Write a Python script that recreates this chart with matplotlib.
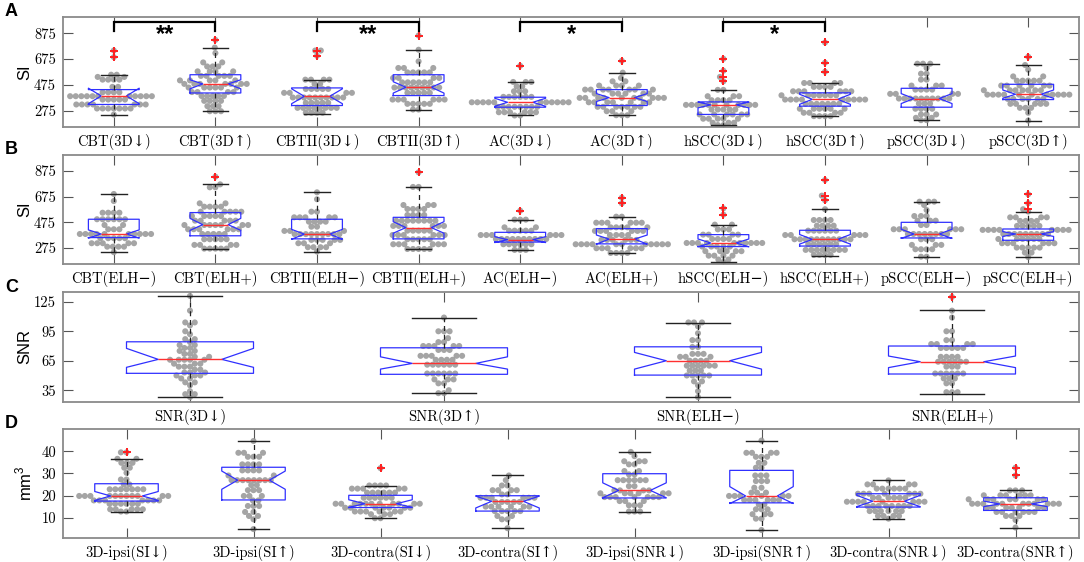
import numpy as np
import matplotlib

matplotlib.use("Agg")
import matplotlib.pyplot as plt  # noqa: E402

TICK_FONT = ["cmr10", "DejaVu Serif"]
plt.rcParams["axes.formatter.use_mathtext"] = True
plt.rcParams["mathtext.fontset"] = "custom"
plt.rcParams["mathtext.rm"] = "Liberation Sans"

# ---------------- panel A : SI, 3D grouping ----------------
a_labels = ["CBT(3D↓)", "CBT(3D↑)", "CBTII(3D↓)", "CBTII(3D↑)", "AC(3D↓)",
            "AC(3D↑)", "hSCC(3D↓)", "hSCC(3D↑)", "pSCC(3D↓)", "pSCC(3D↑)"]
a_med = [390, 483, 387, 457, 341, 377, 321, 364, 370, 403]
a_q1 = [324, 413, 316, 393, 303, 316, 247, 311, 303, 362]
a_q3 = [439, 554, 452, 554, 380, 439, 344, 414, 449, 480]
a_lo = [246, 272, 252, 285, 239, 241, 165, 234, 203, 200]
a_hi = [554, 764, 516, 747, 498, 570, 437, 490, 639, 629]
a_cilo = [330, 445, 330, 412, 310, 347, 298, 325, 331, 372]
a_cihi = [450, 515, 445, 500, 372, 408, 342, 403, 408, 436]
a_fliers = [[741, 690], [823], [741, 700], [857], [623], [662],
            [677, 585, 537, 503], [803, 647, 577], [], [693]]
# (value, number of dots) rows of the swarm
a_rows = [
    [(741, 1), (690, 1), (554, 2), (537, 2), (516, 4), (460, 2), (418, 4), (388, 11),
     (362, 5), (324, 7), (293, 7), (246, 1)],
    [(823, 1), (764, 1), (721, 1), (649, 2), (618, 3), (580, 4), (545, 5), (510, 5),
     (483, 7), (455, 6), (420, 4), (390, 5), (352, 4), (311, 3), (272, 3)],
    [(741, 2), (700, 1), (516, 4), (483, 2), (444, 5), (414, 4), (378, 10), (337, 5),
     (298, 8), (260, 4)],
    [(857, 1), (747, 1), (657, 1), (606, 3), (572, 5), (529, 4), (495, 6), (455, 9),
     (414, 5), (362, 6), (329, 5), (285, 2)],
    [(623, 1), (498, 3), (464, 2), (426, 3), (383, 6), (341, 11), (306, 8), (264, 6),
     (239, 2)],
    [(662, 1), (570, 1), (529, 1), (503, 2), (470, 4), (439, 7), (408, 6), (375, 10),
     (341, 7), (306, 7), (272, 3), (241, 3)],
    [(677, 1), (585, 1), (537, 1), (503, 1), (437, 2), (388, 3), (357, 4), (321, 11),
     (285, 5), (247, 6), (214, 5), (183, 3), (165, 2)],
    [(803, 1), (647, 1), (577, 1), (490, 4), (460, 4), (426, 6), (395, 7), (362, 9),
     (329, 7), (291, 6), (260, 4), (234, 4)],
    [(639, 3), (606, 1), (562, 2), (516, 2), (470, 3), (439, 4), (406, 4), (370, 10),
     (331, 3), (291, 4), (247, 3), (221, 2), (203, 2)],
    [(693, 1), (629, 1), (593, 1), (541, 2), (508, 5), (470, 6), (434, 7), (400, 11),
     (367, 6), (329, 5), (298, 3), (260, 1), (200, 1)],
]
a_pairs = [(1, 2, "**"), (3, 4, "**"), (5, 6, "*"), (7, 8, "*")]

# ---------------- panel B : SI, ELH grouping ----------------
b_labels = ["CBT(ELH−)", "CBT(ELH+)", "CBTII(ELH−)", "CBTII(ELH+)", "AC(ELH−)",
            "AC(ELH+)", "hSCC(ELH−)", "hSCC(ELH+)", "pSCC(ELH−)", "pSCC(ELH+)"]
b_med = [384, 457, 383, 434, 340, 344, 314, 342, 384, 384]
b_q1 = [356, 370, 346, 346, 321, 307, 286, 290, 353, 335]
b_q3 = [499, 551, 499, 514, 397, 426, 379, 413, 475, 423]
b_lo = [242, 267, 247, 267, 260, 236, 166, 215, 207, 204]
b_hi = [696, 771, 709, 751, 496, 519, 457, 577, 636, 559]
b_cilo = [352, 412, 343, 390, 317, 305, 284, 305, 350, 365]
b_cihi = [416, 506, 420, 480, 363, 376, 345, 380, 421, 402]
b_fliers = [[], [831], [], [865], [566], [667, 623], [584, 535],
            [805, 683, 647], [], [694, 624, 577]]
b_rows = [
    [(696, 1), (641, 1), (550, 4), (499, 6), (454, 2), (421, 3), (384, 10), (351, 5),
     (312, 5), (285, 4), (242, 1)],
    [(831, 1), (771, 1), (748, 2), (623, 2), (597, 4), (558, 5), (524, 5), (488, 5),
     (454, 7), (421, 6), (384, 5), (343, 5), (299, 4), (270, 5)],
    [(709, 1), (655, 1), (558, 2), (514, 5), (480, 4), (441, 2), (408, 3), (383, 9),
     (338, 5), (312, 3), (281, 4), (247, 1)],
    [(865, 1), (751, 2), (610, 3), (579, 4), (532, 4), (488, 8), (447, 6), (410, 5),
     (376, 6), (343, 5), (304, 6), (267, 5)],
    [(566, 1), (496, 3), (436, 2), (410, 5), (376, 6), (345, 10), (304, 6), (260, 3)],
    [(667, 1), (623, 1), (519, 2), (472, 6), (436, 5), (408, 6), (376, 4), (338, 6),
     (304, 11), (273, 6), (236, 4)],
    [(584, 1), (535, 1), (457, 2), (420, 3), (379, 4), (345, 4), (314, 10), (286, 5),
     (250, 5), (215, 4), (185, 2), (166, 1)],
    [(805, 1), (683, 1), (647, 1), (577, 1), (493, 4), (449, 4), (410, 6), (376, 5),
     (343, 11), (304, 6), (260, 8), (221, 4)],
    [(636, 3), (610, 1), (571, 1), (524, 3), (488, 3), (454, 2), (421, 6), (384, 8),
     (343, 3), (299, 3), (265, 4), (207, 2)],
    [(694, 1), (624, 1), (577, 1), (559, 1), (514, 4), (486, 4), (447, 5), (416, 8),
     (384, 9), (345, 6), (312, 6), (278, 5), (239, 2), (204, 1)],
]

# ---------------- panel C : SNR ----------------
c_labels = ["SNR(3D↓)", "SNR(3D↑)", "SNR(ELH−)", "SNR(ELH+)"]
c_med = [66.4, 62.3, 65.0, 64.0]
c_q1 = [52.2, 51.2, 50.4, 51.5]
c_q3 = [84.3, 78.2, 79.2, 80.0]
c_lo = [28.4, 32.1, 28.0, 31.5]
c_hi = [130.8, 108.7, 103.6, 116.2]
c_cilo = [58.3, 56.5, 56.5, 58.0]
c_cihi = [77.6, 69.0, 73.5, 69.8]
c_fliers = [[], [], [], [129.8]]
c_rows = [
    [(131, 1), (116, 1), (104, 2), (101, 1), (95, 1), (92, 1), (87, 2), (84, 1), (81, 2),
     (78, 2), (75, 2), (72, 2), (69, 2), (66, 5), (62, 3), (59, 3), (56, 2), (53, 3),
     (50, 3), (47, 2), (43, 2), (40, 1), (34, 1), (31, 2), (28, 1)],
    [(109, 1), (95, 3), (88, 1), (84, 2), (80, 5), (76, 3), (70, 5), (66, 4), (61, 6),
     (52, 6), (46, 3), (42, 2), (35, 1), (32, 2)],
    [(104, 3), (100, 1), (93, 1), (86, 2), (79, 2), (72, 3), (69, 3), (65, 4), (60, 6),
     (55, 3), (50, 5), (44, 2), (40, 1), (34, 1), (28, 1)],
    [(130, 1), (116, 1), (109, 1), (95, 2), (86, 2), (82, 4), (78, 5), (69, 4), (64, 6),
     (59, 3), (52, 6), (47, 3), (42, 2), (33, 3)],
]

# ---------------- panel D : volume ----------------
d_labels = ["3D-ipsi(SI↓)", "3D-ipsi(SI↑)", "3D-contra(SI↓)", "3D-contra(SI↑)",
            "3D-ipsi(SNR↓)", "3D-ipsi(SNR↑)", "3D-contra(SNR↓)", "3D-contra(SNR↑)"]
d_med = [19.9, 27.0, 16.4, 17.5, 22.4, 19.9, 17.5, 16.3]
d_q1 = [17.6, 18.1, 14.7, 13.1, 19.0, 16.8, 14.9, 13.4]
d_q3 = [25.4, 32.8, 20.2, 20.0, 29.9, 31.4, 20.9, 19.1]
d_lo = [12.9, 5.0, 9.9, 5.4, 12.9, 4.6, 9.7, 5.7]
d_hi = [36.6, 44.6, 24.6, 29.1, 39.7, 44.8, 26.9, 22.4]
d_cilo = [17.9, 22.9, 14.8, 14.5, 19.1, 16.5, 15.1, 15.1]
d_cihi = [21.9, 31.1, 18.2, 19.8, 25.8, 24.1, 20.2, 17.6]
d_fliers = [[39.7], [], [32.4], [], [], [], [], [32.6, 29.1]]
d_rows = [
    [(39.5, 2), (36.6, 2), (34.8, 3), (32.6, 2), (30.3, 1), (27.3, 2), (25.1, 2),
     (22.9, 7), (19.9, 11), (17.9, 7), (16.4, 6), (13.9, 5), (12.9, 2)],
    [(44.6, 1), (39.3, 3), (37.5, 3), (34.1, 4), (31.4, 4), (29.1, 2), (27.0, 8),
     (24.8, 2), (22.5, 3), (19.9, 3), (17.9, 2), (15.4, 3), (12.7, 2), (10.9, 2),
     (9.4, 1), (5.0, 1)],
    [(32.4, 1), (24.6, 4), (23.2, 5), (21.4, 6), (19.1, 6), (16.4, 11), (14.6, 7),
     (12.9, 6), (11.7, 3), (9.9, 2)],
    [(29.1, 1), (27.0, 1), (24.6, 2), (22.5, 4), (20.6, 2), (19.1, 6), (17.2, 5),
     (15.1, 6), (13.1, 5), (10.9, 2), (9.4, 2), (5.4, 1)],
    [(39.7, 1), (37.8, 1), (35.5, 3), (34.1, 2), (31.1, 2), (29.6, 2), (27.0, 6),
     (24.3, 2), (22.4, 4), (21.1, 6), (19.4, 7), (17.6, 3), (15.7, 3), (12.9, 3)],
    [(44.8, 1), (39.3, 4), (37.5, 3), (34.8, 2), (32.6, 2), (29.1, 3), (26.6, 3),
     (23.6, 2), (21.4, 3), (19.9, 6), (18.1, 6), (16.1, 2), (13.9, 3), (11.7, 3),
     (9.7, 2), (4.6, 1)],
    [(26.9, 1), (25.1, 4), (23.2, 6), (20.9, 7), (19.1, 6), (17.3, 8), (15.4, 8),
     (13.1, 6), (10.9, 4), (9.7, 1)],
    [(32.6, 1), (29.1, 1), (22.4, 3), (20.2, 6), (18.4, 7), (16.4, 11), (14.6, 7),
     (12.7, 6), (10.9, 3), (9.1, 1), (5.7, 1)],
]

GAP_PX = 5.6  # minimum centre distance between swarm dots, pixels


def swarm_offsets(ax, values):
    """Beeswarm x offsets (data units): each dot goes as close to the centre as it can."""
    ys = ax.transData.transform(np.c_[np.ones(len(values)), values])[:, 1]
    px_per_unit = (ax.transData.transform((1, 0)) - ax.transData.transform((0, 0)))[0]
    order = np.argsort(ys, kind="stable")
    placed = []
    xs = np.zeros(len(values))
    d2 = GAP_PX ** 2
    for i in order:
        y = ys[i]
        near = [(px, py) for px, py in placed if abs(py - y) < GAP_PX]
        cands = [0.0]
        for px, py in near:
            dx = np.sqrt(d2 - (py - y) ** 2)
            cands += [px + dx, px - dx]
        cands.sort(key=lambda c: (abs(c), c))
        for c in cands:
            if all((c - px) ** 2 + (y - py) ** 2 >= d2 - 1e-6 for px, py in near):
                xs[i] = c
                placed.append((c, y))
                break
    return xs / px_per_unit


def draw_panel(ax, labels, rows, med, q1, q3, lo, hi, cilo, cihi, fliers,
               ylim, yticks):
    n = len(labels)
    pos = np.arange(1, n + 1)
    ax.set_xlim(0.5, n + 0.5)
    ax.set_ylim(*ylim)
    for k in range(n):
        vals = np.repeat([r[0] for r in rows[k]], [r[1] for r in rows[k]])
        xo = swarm_offsets(ax, vals)
        ax.scatter(pos[k] + xo, vals, s=19, color="#959595", alpha=0.85,
                   edgecolors="none", zorder=2)
    stats = [dict(med=med[k], q1=q1[k], q3=q3[k], whislo=lo[k], whishi=hi[k],
                  cilo=cilo[k], cihi=cihi[k], fliers=fliers[k]) for k in range(n)]
    ax.bxp(stats, positions=pos, widths=0.5, shownotches=True, manage_ticks=False,
           boxprops=dict(color="#3030ff", lw=0.9),
           medianprops=dict(color="#ff3030", lw=1.0),
           whiskerprops=dict(color="#222222", lw=0.9, ls=(0, (4, 3))),
           capprops=dict(color="#222222", lw=1.0),
           flierprops=dict(marker="+", markeredgecolor="#ff2020", markersize=6,
                           markeredgewidth=1.4),
           zorder=3)
    ax.set_xticks(pos)
    ax.set_xticklabels(labels, fontfamily=TICK_FONT, fontsize=10.5)
    ax.set_yticks(yticks)
    ax.set_yticklabels([str(t) for t in yticks], fontfamily=TICK_FONT, fontsize=10.5)
    ax.tick_params(direction="in", length=7, width=0.8, color="#555555",
                   top=True, right=True, pad=5)
    for sp in ax.spines.values():
        sp.set_color("#8a8a8a")
        sp.set_linewidth(1.3)


fig = plt.figure(figsize=(10.84, 5.62), dpi=100)
L, W = 63 / 1084, 1016 / 1084
rects = {"A": (17, 127), "B": (155, 264), "C": (292, 402), "D": (429, 538)}
axes = {}
for key, (top, bot) in rects.items():
    axes[key] = fig.add_axes([L, 1 - bot / 562, W, (bot - top) / 562])

draw_panel(axes["A"], a_labels, a_rows, a_med, a_q1, a_q3, a_lo, a_hi, a_cilo, a_cihi,
           a_fliers, (150, 1000), [275, 475, 675, 875])
draw_panel(axes["B"], b_labels, b_rows, b_med, b_q1, b_q3, b_lo, b_hi, b_cilo, b_cihi,
           b_fliers, (150, 1000), [275, 475, 675, 875])
draw_panel(axes["C"], c_labels, c_rows, c_med, c_q1, c_q3, c_lo, c_hi, c_cilo, c_cihi,
           c_fliers, (23, 135), [35, 65, 95, 125])
draw_panel(axes["D"], d_labels, d_rows, d_med, d_q1, d_q3, d_lo, d_hi, d_cilo, d_cihi,
           d_fliers, (1, 50), [10, 20, 30, 40])

# significance brackets in panel A
axA = axes["A"]
for x1, x2, star in a_pairs:
    axA.plot([x1, x1, x2, x2], [888, 962, 962, 888], color="black", lw=1.6,
             solid_joinstyle="miter", zorder=4)
    axA.text((x1 + x2) / 2, 862, star, ha="center", va="center", fontsize=17,
             fontweight="bold", family="Liberation Sans", zorder=4)

ylabels = {"A": "SI", "B": "SI", "C": "SNR", "D": "mm$^3$"}
for key, ax in axes.items():
    ax.set_ylabel(ylabels[key], fontsize=12, family="Liberation Sans", va="center")
    ax.yaxis.set_label_coords(-0.038, 0.5)
    top = rects[key][0]
    fig.text(5 / 1084, 1 - (top - 5) / 562, key, fontsize=13, fontweight="bold",
             family="Liberation Sans", ha="left", va="center")

fig.savefig("out.png", dpi=100)
